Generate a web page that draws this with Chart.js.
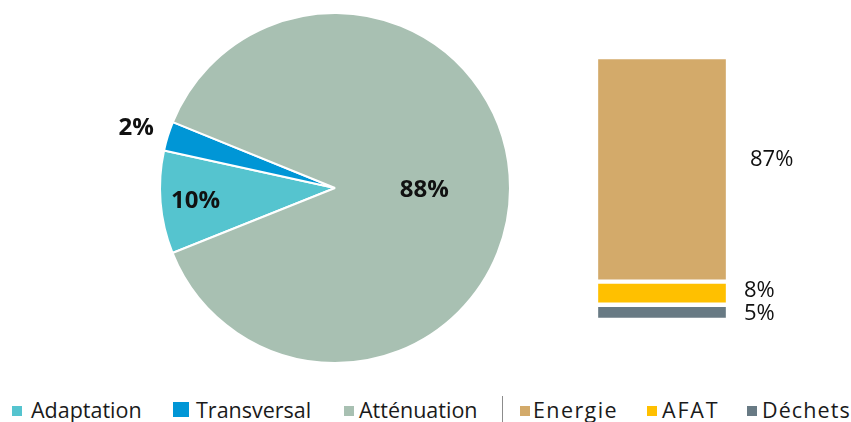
<!DOCTYPE html>
<html>
<head>
<meta charset="utf-8">
<script src="https://cdn.jsdelivr.net/npm/chart.js@4.4.0/dist/chart.umd.min.js"></script>
<style>
  body { margin: 0; background: #fff; width: 851px; height: 422px; overflow: hidden; position: relative; font-family: "Open Sans", sans-serif; }
  #pie { position: absolute; left: 105px; top: 0; }
  #bar { position: absolute; left: 596px; top: 40px; }
  .txt { position: absolute; top: 399px; font-size: 21.5px; line-height: 21px; color: #1a1a1a; white-space: nowrap; }
  .sw { position: absolute; top: 406px; width: 10px; height: 10px; }
  .sep { position: absolute; left: 502px; top: 396px; width: 1px; height: 26px; background: #8c8c8c; }
  .s0 { left: 12px; }  .t0 { left: 31px; }
  .s1 { left: 173px; top: 402px; width: 16px; height: 15px; }  .t1 { left: 196px; }
  .s2 { left: 344px; } .t2 { left: 359px; }
  .s3 { left: 520px; } .t3 { left: 533px; letter-spacing: 1.4px; }
  .s4 { left: 647px; } .t4 { left: 662px; letter-spacing: 1.8px; }
  .s5 { left: 747px; } .t5 { left: 762px; letter-spacing: 1.1px; }
</style>
</head>
<body>
<canvas id="pie" width="460" height="390"></canvas>
<canvas id="bar" width="220" height="300"></canvas>
<div id="legend"><div class="sep"></div></div>
<script>
const pieCategories = ["Adaptation", "Transversal", "Atténuation"];
const pieValues = [9.5, 2.7, 87.8];
const pieLabels = ["10%", "2%", "88%"];

const barCategories = ["Energie", "AFAT", "Déchets"];
const barValues = [85.4, 8.8, 5.8];
const barLabels = ["87%", "8%", "5%"];

const pieColors = ["#55c4cf", "#0096d6", "#a8c0b2"];
const barColors = ["#d3aa6a", "#ffc000", "#687a84"];

Chart.defaults.font.family = '"Open Sans", sans-serif';

// labels on / beside the pie slices
const pieLabelPlugin = {
  id: "pieLabels",
  afterDatasetsDraw(chart, args, opts) {
    const c = chart.ctx;
    const arcs = chart.getDatasetMeta(0).data;
    c.save();
    c.font = 'bold 24px "Open Sans"';
    c.fillStyle = "#111";
    c.textAlign = "center";
    c.textBaseline = "middle";
    arcs.forEach((arc, i) => {
      const p = arc.getProps(["x", "y", "startAngle", "endAngle", "outerRadius"], true);
      const mid = (p.startAngle + p.endAngle) / 2;
      const r = p.outerRadius * opts.radius[i];
      c.fillText(pieLabels[i], p.x + Math.cos(mid) * r, p.y + Math.sin(mid) * r + 2);
    });
    c.restore();
  }
};

// labels to the right of the stacked bar
const barLabelPlugin = {
  id: "barLabels",
  afterDatasetsDraw(chart, args, opts) {
    const c = chart.ctx;
    c.save();
    c.font = '22px "Open Sans"';
    c.fillStyle = "#111";
    c.textAlign = "left";
    c.textBaseline = "middle";
    chart.data.datasets.forEach((ds, di) => {
      const i = barCategories.indexOf(ds.label);
      const bar = chart.getDatasetMeta(di).data[0];
      const p = bar.getProps(["x", "y", "base", "width"], true);
      c.fillText(barLabels[i], p.x + p.width / 2 + opts.dx[i], (p.y + p.base) / 2 + opts.dy[i]);
    });
    c.restore();
  }
};

new Chart(document.getElementById("pie"), {
  type: "pie",
  data: {
    labels: pieCategories,
    datasets: [{
      data: pieValues,
      backgroundColor: pieColors,
      borderColor: "#fff",
      borderWidth: 2
    }]
  },
  options: {
    responsive: false,
    animation: false,
    devicePixelRatio: 1,
    rotation: 248.2,
    layout: { padding: { left: 54, right: 54, top: 12, bottom: 26 } },
    plugins: {
      legend: { display: false },
      tooltip: { enabled: false },
      pieLabels: { radius: [0.8, 1.19, 0.51] }
    }
  },
  plugins: [pieLabelPlugin]
});

const barDatasets = barCategories.map((name, i) => ({
  label: name,
  data: [barValues[i]],
  backgroundColor: barColors[i],
  borderColor: "#fff",
  borderWidth: 2.5,
  borderSkipped: false,
  barPercentage: 1,
  categoryPercentage: 1
})).reverse();

new Chart(document.getElementById("bar"), {
  type: "bar",
  data: { labels: [""], datasets: barDatasets },
  options: {
    responsive: false,
    animation: false,
    devicePixelRatio: 1,
    layout: { padding: { left: 0, right: 88, top: 17, bottom: 20 } },
    scales: {
      x: { stacked: true, display: false },
      y: { stacked: true, display: false, min: 0, max: 100 }
    },
    plugins: {
      legend: { display: false },
      tooltip: { enabled: false },
      barLabels: { dx: [22, 16, 16], dy: [-10, -2, 1] }
    }
  },
  plugins: [barLabelPlugin]
});

// legend row, pie group | bar group
const legend = document.getElementById("legend");
pieCategories.concat(barCategories).forEach((name, i) => {
  const sw = document.createElement("div");
  sw.className = "sw s" + i;
  sw.style.background = pieColors.concat(barColors)[i];
  const t = document.createElement("div");
  t.className = "txt t" + i;
  t.textContent = name;
  legend.appendChild(sw);
  legend.appendChild(t);
});
</script>
</body>
</html>
